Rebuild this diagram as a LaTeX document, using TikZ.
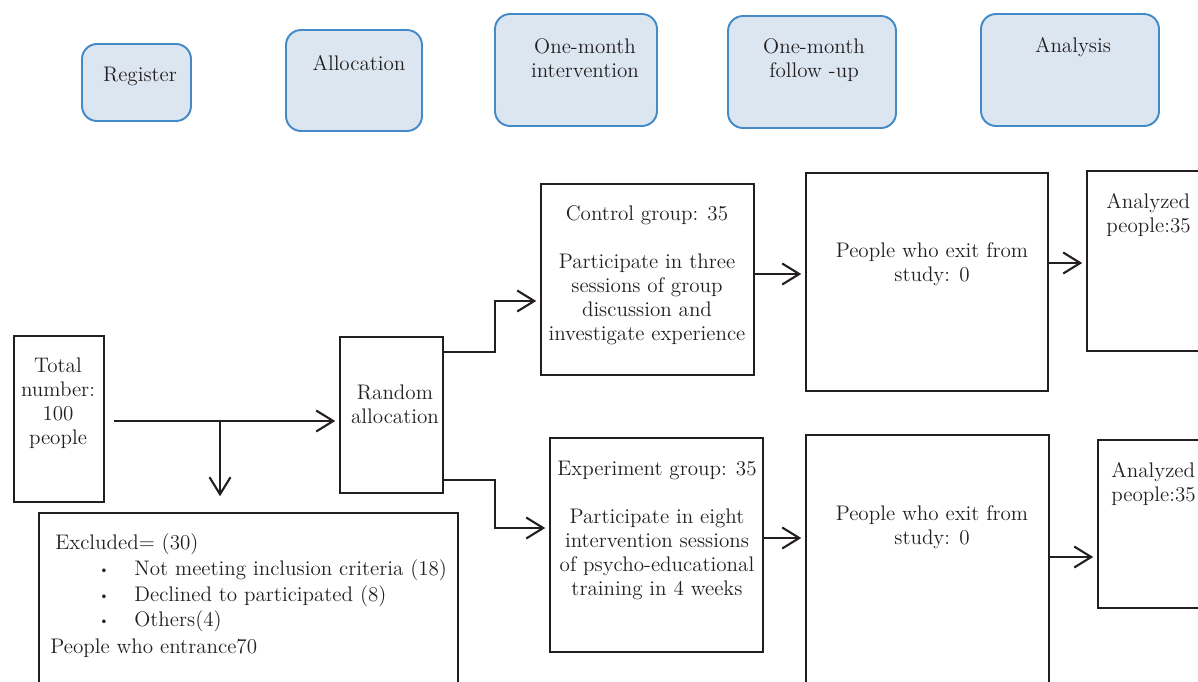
\documentclass[tikz,border=0pt]{standalone}
\usetikzlibrary{arrows.meta}
\definecolor{phasefill}{RGB}{220,230,240}
\definecolor{phaseline}{RGB}{66,138,200}
\definecolor{ink}{RGB}{35,31,32}
\begin{document}
\begin{tikzpicture}[x=0.02cm,y=-0.02cm,
  phase/.style={draw=phaseline,fill=phasefill,line width=1.1pt,rounded corners=0.3cm},
  box/.style={draw=ink,line width=0.9pt},
  txt/.style={text=ink,inner sep=0pt,align=center,font=\fontsize{12}{13.7}\selectfont},
  arr/.style={draw=ink,line width=1.2pt,shorten >=0.08cm,-{Straight Barb[length=0.34cm,width=0.42cm]}}]
\useasboundingbox (0,0) rectangle (1198,681);
\clip (0,0) rectangle (1198,681);

% phases
\node[phase,minimum width=2.18cm,minimum height=1.54cm] (reg) at (136.5,82.5) {};
\node[phase,minimum width=2.72cm,minimum height=2.02cm] (alloc) at (354,80.5) {};
\node[phase,minimum width=3.24cm,minimum height=2.24cm] (interv) at (576,70) {};
\node[phase,minimum width=3.36cm,minimum height=2.24cm] (follow) at (812,72) {};
\node[phase,minimum width=3.56cm,minimum height=2.24cm] (anal) at (1070,70) {};

\node[txt] (regtxt) at (140,76) {Register};
\node[txt] (alloctxt) at (359,63) {Allocation};
\node[txt] (intervtxt) at (585,58) {One-month\\intervention};
\node[txt] (followtxt) at (814,60) {One-month\\follow -up};
\node[txt] (analtxt) at (1073,47) {Analysis};

% boxes
\node[box,minimum width=1.8cm,minimum height=3.32cm] (total) at (59,419) {};
\node[box,minimum width=2.06cm,minimum height=3.12cm] (rand) at (391.5,415) {};
\node[box,minimum width=8.38cm,minimum height=3.74cm] (excl) at (248.5,606.5) {};
\node[box,minimum width=4.26cm,minimum height=3.82cm] (ctrl) at (647.5,279.5) {};
\node[box,minimum width=4.26cm,minimum height=4.28cm] (expt) at (656.5,545) {};
\node[box,minimum width=4.84cm,minimum height=4.36cm] (exit1) at (927,282) {};
\node[box,minimum width=4.86cm,minimum height=5.7cm] (exit2) at (927.5,577.5) {};
\node[box,minimum width=2.86cm,minimum height=3.6cm] (ana1) at (1158.5,261) {};
\node[box,minimum width=2.84cm,minimum height=3.36cm] (ana2) at (1169,524) {};

\node[txt] (totaltxt) at (58,403.5) {Total\\number:\\100\\people};
\node[txt] (randtxt) at (395,404) {Random\\allocation};
\node[txt] (ctrltxt) at (647,275.5) {Control group: 35\\[13.7pt]Participate in three\\sessions of group\\discussion and\\investigate experience};
\node[txt] (expttxt) at (657,530.5) {Experiment group: 35\\[13.7pt]Participate in eight\\intervention sessions\\of psycho-educational\\training in 4 weeks};
\node[txt] (exit1txt) at (932,264) {People who exit from\\study: 0};
\node[txt] (exit2txt) at (932,527.5) {People who exit from\\study: 0};
\node[txt,anchor=west,align=left] (ana1txt) at (1106,215) {Analyzed\\people:35};
\node[txt,anchor=west,align=left] (ana2txt) at (1111,484) {Analyzed\\people:35};

\node[txt,anchor=west] (exhead) at (55,544) {Excluded= (30)};
\node[txt] (b1) at (104,571) {\scriptsize\textbullet};
\node[txt] (b2) at (104,597) {\scriptsize\textbullet};
\node[txt] (b3) at (104,622) {\scriptsize\textbullet};
\node[txt,anchor=west] (ex1) at (134,570) {Not meeting inclusion criteria (18)};
\node[txt,anchor=west] (ex2) at (134,596) {Declined to participated (8)};
\node[txt,anchor=west] (ex3) at (134,621) {Others(4)};
\node[txt,anchor=west] (entr) at (50,648) {People who entrance70};

% connectors
\coordinate (split) at (220,421);
\coordinate (c1) at ([yshift=0.11cm]ctrl.east);
\coordinate (c2) at ([yshift=0.38cm]exit1.east);
\coordinate (c3) at ([yshift=0.14cm]expt.east);
\coordinate (c4) at ([yshift=0.41cm]exit2.east);
\draw[arr,shorten <=0.18cm] (total.east |- split) -- (split -| rand.west);
\draw[arr,shorten >=0.32cm] (split) -- (split |- excl.north);
\draw[arr] ([yshift=-0.32cm]rand.north east) -- ++(51,0) |- ([yshift=-0.43cm]ctrl.west);
\draw[arr] ([yshift=0.28cm]rand.south east) -- ++(51,0) |- ([yshift=0.34cm]expt.west);
\draw[arr] (c1) -- (c1 -| exit1.west);
\draw[arr] (c2) -- (c2 -| ana1.west);
\draw[arr] (c3) -- (c3 -| exit2.west);
\draw[arr] (c4) -- (c4 -| ana2.west);
\end{tikzpicture}
\end{document}
